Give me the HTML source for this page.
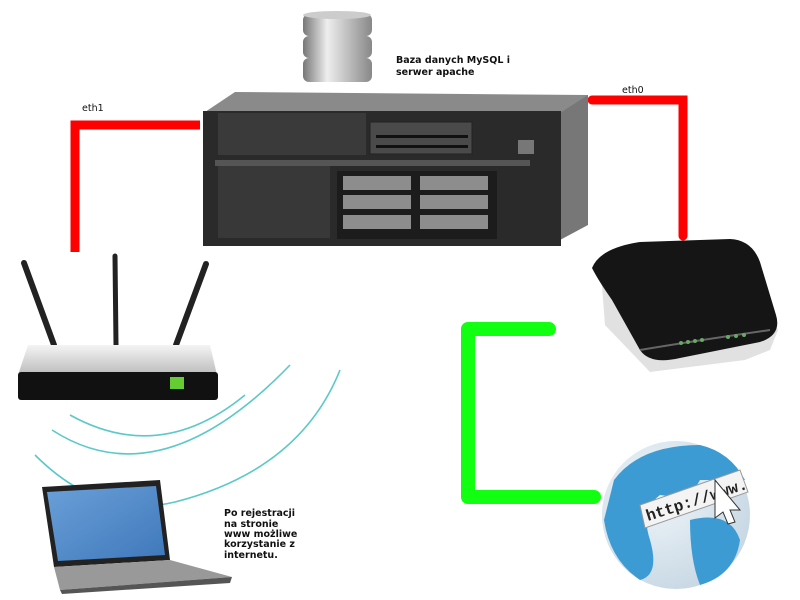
<!DOCTYPE html>
<html><head><meta charset="utf-8"><style>
html,body{margin:0;padding:0;background:#fff;width:800px;height:600px;overflow:hidden}
svg{display:block}
text{font-family:"DejaVu Sans","Liberation Sans",sans-serif;font-weight:bold;font-size:9.5px;fill:#111}
</style></head><body>
<svg width="800" height="600" viewBox="0 0 800 600" xmlns="http://www.w3.org/2000/svg">
<defs>
<linearGradient id="cyl" x1="0" x2="1"><stop offset="0" stop-color="#777"/><stop offset=".35" stop-color="#eee"/><stop offset="1" stop-color="#888"/></linearGradient>
<linearGradient id="tp" x1="0" y1="0" x2="0" y2="1"><stop offset="0" stop-color="#f4f4f4"/><stop offset="1" stop-color="#bbb"/></linearGradient>
<radialGradient id="gl" cx=".35" cy=".35" r=".7"><stop offset="0" stop-color="#f0f6fa"/><stop offset="1" stop-color="#c8d8e4"/></radialGradient>
<linearGradient id="scr" x1="0" y1="0" x2="1" y2="1"><stop offset="0" stop-color="#6aa0d8"/><stop offset="1" stop-color="#3f78bb"/></linearGradient>
</defs>
<!-- connectors -->
<polyline points="75,252 75,125 200,125" fill="none" stroke="#f00" stroke-width="9"/>
<polyline points="592,100 683,100 683,236" fill="none" stroke="#f00" stroke-width="9" stroke-linecap="round"/>
<polyline points="549,329 468,329 468,497 594,497" fill="none" stroke="#1f1" stroke-width="14" stroke-linecap="round" stroke-linejoin="round"/>
<text x="82" y="111" style="font-weight:normal">eth1</text>
<text x="622" y="93" style="font-weight:normal">eth0</text>
<!-- DB -->
<g>
<rect x="303" y="58" width="69" height="24" rx="6" fill="url(#cyl)"/>
<rect x="303" y="36" width="69" height="22" rx="6" fill="url(#cyl)"/>
<rect x="303" y="14" width="69" height="22" rx="6" fill="url(#cyl)"/>
<ellipse cx="337" cy="15" rx="34" ry="4" fill="#ccc"/>
</g>
<text x="396" y="63">Baza danych MySQL i</text>
<text x="396" y="75">serwer apache</text>
<!-- server -->
<polygon points="205,112 235,92 588,95 585,113" fill="#8a8a8a"/>
<polygon points="560,113 588,95 588,225 560,240" fill="#777"/>
<rect x="203" y="111" width="358" height="135" fill="#2a2a2a"/>
<rect x="218" y="113" width="148" height="42" fill="#3a3a3a"/>
<rect x="370" y="122" width="102" height="32" fill="#4a4a4a" stroke="#222"/>
<rect x="376" y="135" width="92" height="3" fill="#111"/><rect x="376" y="145" width="92" height="3" fill="#111"/>
<rect x="215" y="160" width="315" height="6" fill="#555"/>
<rect x="218" y="166" width="112" height="72" fill="#383838"/>
<rect x="337" y="171" width="160" height="68" fill="#1c1c1c"/>
<g fill="#8d8d8d">
<rect x="343" y="176" width="68" height="14"/><rect x="420" y="176" width="68" height="14"/>
<rect x="343" y="195" width="68" height="14"/><rect x="420" y="195" width="68" height="14"/>
<rect x="343" y="215" width="68" height="14"/><rect x="420" y="215" width="68" height="14"/>
</g>
<rect x="518" y="140" width="16" height="14" fill="#777"/>
<!-- tp-link router -->
<g stroke="#222" stroke-linecap="round">
<line x1="24" y1="263" x2="54" y2="345" stroke-width="6"/>
<line x1="115" y1="256" x2="116" y2="345" stroke-width="5"/>
<line x1="206" y1="264" x2="176" y2="345" stroke-width="6"/>
</g>
<polygon points="28,345 210,345 217,375 18,375" fill="url(#tp)"/>
<rect x="18" y="372" width="200" height="28" rx="3" fill="#111"/>
<rect x="170" y="377" width="14" height="12" fill="#6c3"/>
<!-- wifi arcs -->
<g fill="none" stroke="#5cc8c8" stroke-width="1.6">
<path d="M70,415 Q160,465 245,395"/>
<path d="M52,430 Q160,500 290,365"/>
<path d="M35,455 Q100,520 175,502 Q300,470 340,370"/>
</g>
<!-- laptop -->
<polygon points="42,487 160,480 170,560 54,567" fill="#222"/>
<polygon points="47,492 156,486 165,555 58,561" fill="url(#scr)"/>
<polygon points="54,567 170,560 232,577 60,590" fill="#999"/>
<polygon points="60,590 232,577 230,583 62,594" fill="#555"/>
<text x="224" y="516">Po rejestracji</text>
<text x="224" y="527">na stronie</text>
<text x="224" y="537">www możliwe</text>
<text x="224" y="547">korzystanie z</text>
<text x="224" y="558">internetu.</text>
<!-- cisco router -->
<polygon points="600,260 630,246 705,240 745,250 760,290 778,330 770,350 745,360 650,372 605,325" fill="#aaa" opacity=".35"/>
<path d="M592,268 Q600,248 640,242 L730,239 Q752,240 760,262 L776,315 Q782,335 760,342 L680,358 Q650,365 640,350 L612,300 Q598,280 592,268Z" fill="#151515"/>
<path d="M640,350 Q700,340 770,330" stroke="#666" stroke-width="2" fill="none"/>
<g fill="#6a6">
<circle cx="681" cy="343" r="2"/><circle cx="688" cy="342" r="2"/><circle cx="695" cy="341" r="2"/><circle cx="702" cy="340" r="2"/><circle cx="728" cy="337" r="2"/><circle cx="736" cy="336" r="2"/><circle cx="744" cy="335" r="2"/>
</g>
<!-- globe -->
<circle cx="676" cy="515" r="74" fill="url(#gl)"/>
<path d="M614,480 Q640,445 700,445 Q730,452 745,480 L700,480 Q690,500 660,495 Q640,510 650,540 Q660,575 640,580 Q610,560 604,520Z" fill="#3d9bd4"/>
<path d="M690,520 Q730,510 740,540 Q735,575 700,585 Q690,560 690,520Z" fill="#3d9bd4"/>
<polygon points="640,505 740,470 748,492 645,528" fill="#f4f4f4" stroke="#999"/>
<text x="648" y="521" transform="rotate(-18 648 521)" style="font-family:'Liberation Mono',monospace;font-size:16px;fill:#222">http://www.</text>
<polygon points="715,480 740,510 730,510 735,522 728,524 723,512 715,518" fill="#fff" stroke="#333"/>
</svg>
</body></html>
